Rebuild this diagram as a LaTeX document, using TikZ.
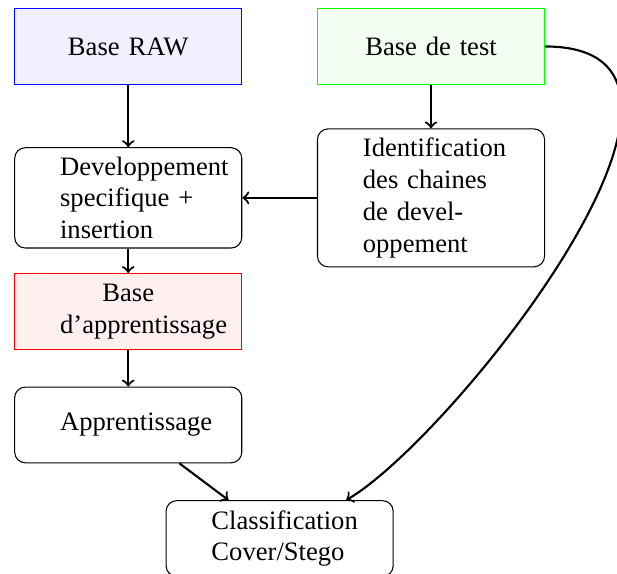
\documentclass[tikz,border=0pt]{standalone}
\usepackage{fontspec}
\setmainfont{Liberation Serif}

\begin{document}
\begin{tikzpicture}[minimum width=3cm, minimum height=1cm, text width=1.8cm,
  base/.style={draw, align=center},
  etape/.style={draw, rounded corners},
  fleche/.style={->, thick}]

\useasboundingbox (-1.694,0.614) rectangle (6.457,-6.956);

\node[base, draw=blue, fill=blue!6] (raw) at (0,0) {Base RAW};
\node[base, draw=green, fill=green!5] (test) at (4,0) {Base de test};

\node[etape] (dev) at (0,-2) {Developpement specifique + insertion};
\node[etape] (ident) at (4,-2) {Identification des chaines de developpement};

\node[base, draw=red, fill=red!6] (appbase) at (0,-3.5) {Base d'apprentissage};
\node[etape] (appr) at (0,-5) {Apprentissage};
\node[etape] (classif) at (2,-6.5) {Classification Cover/Stego};

\begin{scope}[fleche]
\draw (raw) -- (dev);
\draw (test) -- (ident);
\draw (ident) -- (dev);
\draw (dev) -- (appbase);
\draw (appbase) -- (appr);
\draw (appr) -- (classif);
\draw (test.east) .. controls +(0:2.9) and +(30:1.6) .. (classif.30);
\end{scope}

\end{tikzpicture}
\end{document}
